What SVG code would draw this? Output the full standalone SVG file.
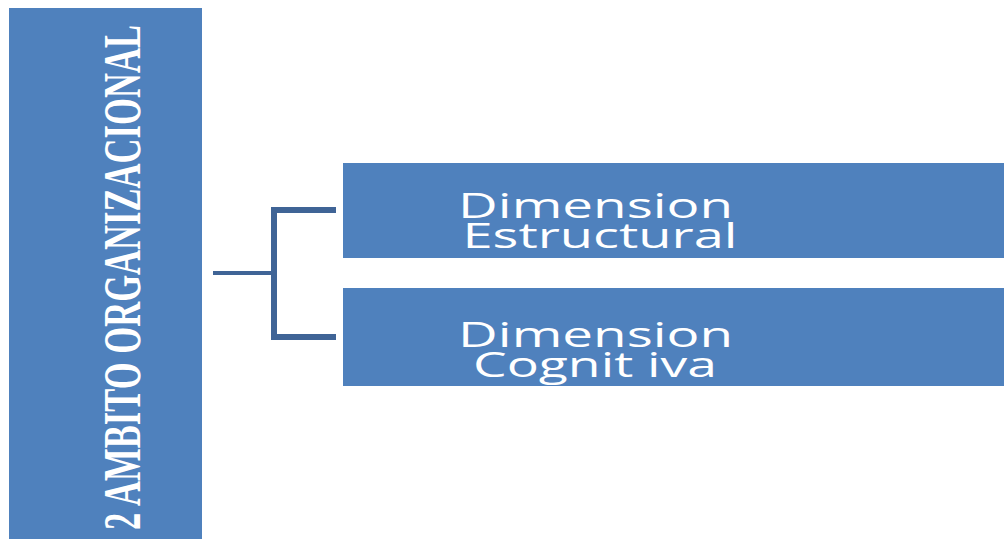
<svg xmlns="http://www.w3.org/2000/svg" width="1004" height="539" viewBox="0 0 1004 539">
  <style>
    .box { fill: #4F81BD; }
    .label { fill: #FFFFFF; font-family: "Open Sans", "DejaVu Sans", sans-serif; font-size: 34px; text-anchor: middle; }
    .vlabel { fill: #FFFFFF; font-family: "Liberation Serif", serif; font-weight: bold; font-size: 52px; }
    .conn { stroke: #3F6496; fill: none; stroke-linecap: butt; stroke-linejoin: miter; }
  </style>
  <rect width="1004" height="539" fill="#FFFFFF"/>

  <!-- parent panel with vertical title -->
  <g id="ambito">
    <rect class="box" x="9" y="8" width="193" height="531"/>
    <text class="vlabel" transform="translate(140,530) rotate(-90)" textLength="505" lengthAdjust="spacingAndGlyphs">2 AMBITO ORGANIZACIONAL</text>
  </g>

  <!-- bracket connectors -->
  <g id="connectors">
    <line class="conn" x1="213" y1="273" x2="274" y2="273" stroke-width="4"/>
    <polyline class="conn" points="336,210 274,210 274,337 336,337" stroke-width="6"/>
  </g>

  <g id="dim-estructural">
    <rect class="box" x="343" y="163" width="661" height="95"/>
    <text class="label">
      <tspan x="600" y="218" textLength="275" lengthAdjust="spacingAndGlyphs">Dimension</tspan>
      <tspan x="600" y="248" textLength="275" lengthAdjust="spacingAndGlyphs">Estructural</tspan>
    </text>
  </g>

  <g id="dim-cognitiva">
    <rect class="box" x="343" y="288" width="661" height="98"/>
    <text class="label">
      <tspan x="600" y="347" textLength="275" lengthAdjust="spacingAndGlyphs">Dimension</tspan>
      <tspan x="595" y="377" textLength="244" lengthAdjust="spacingAndGlyphs">Cognit iva</tspan>
    </text>
  </g>
</svg>
